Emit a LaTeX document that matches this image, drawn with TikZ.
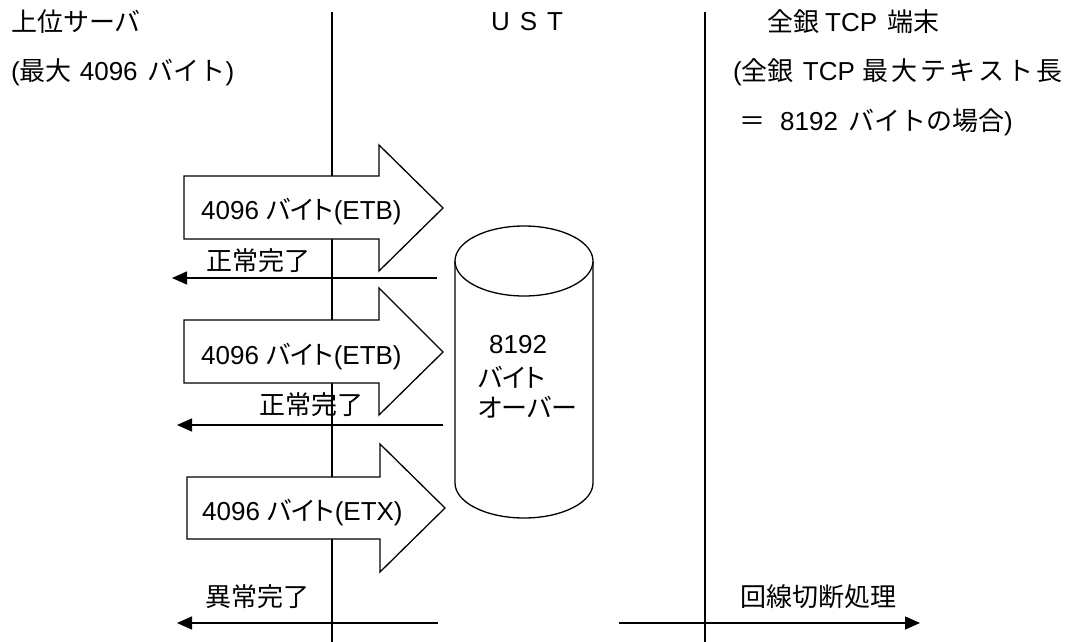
\documentclass[tikz,border=0pt]{standalone}
\usepackage{fontspec}
\setmainfont{Noto Sans CJK JP}
\newfontfamily\lat{Liberation Sans}
\newfontfamily\jp[RawFeature=+palt]{Noto Sans CJK JP}
\usetikzlibrary{arrows.meta}
\newcommand{\gapx}[1]{\hspace{#1pt}}
\begin{document}
\begin{tikzpicture}[x=1pt,y=-1pt,
  lbl/.style={anchor=west,inner sep=0pt,font=\fontsize{26}{30}\selectfont},
  bigarrow/.style={draw,line width=1.3pt,fill=white,line join=miter},
  msg/.style={line width=1.4pt,-{Triangle[length=15pt,width=13pt]}},
  lifeline/.style={line width=1.4pt}]
\useasboundingbox (0,0) rectangle (1065,642);
% lifelines
\coordinate (ua) at (332,12);
\coordinate (ub) at (332,642);
\coordinate (ta) at (705,12);
\coordinate (tb) at (705,642);
\draw[lifeline] (ua) -- (ub);
\draw[lifeline] (ta) -- (tb);
% headers
\node[lbl] (h1) at (11,22) {上位サーバ};
\node[lbl] (h1b) at (11,72) {{\lat (}最大\gapx{8}{\lat 4096}\gapx{10}バイト{\lat )}};
\node[lbl,anchor=center] (h2) at (527,22) {\lat U\hspace{10pt}S\hspace{10pt}T};
\node[lbl] (h3) at (767,22) {全銀\gapx{6}{\lat TCP}\gapx{10}端末};
\node[lbl] (h3b) at (733,72) {{\lat (}全銀\gapx{9}{\lat TCP}\gapx{8}最\gapx{3}大\gapx{3}テ\gapx{3}キ\gapx{3}ス\gapx{3}ト\gapx{3}長};
\node[lbl] (h3c) at (739,122) {＝\gapx{15}{\lat 8192}\gapx{10}バイトの場合{\lat )}};
% big arrows
\draw[bigarrow] (184,176) -- (379,176) -- (379,145) -- (443,208) -- (379,271) -- (379,239) -- (184,239) -- cycle;
\node[lbl] (a1) at (201,212) {{\lat 4096 }{\jp バイト}{\lat (ETB)}};
\draw[bigarrow] (184,320) -- (379,320) -- (379,288) -- (443,352) -- (379,415) -- (379,383) -- (184,383) -- cycle;
\node[lbl] (a2) at (201,357) {{\lat 4096 }{\jp バイト}{\lat (ETB)}};
\draw[bigarrow] (187,477) -- (380,477) -- (380,444) -- (445,508) -- (380,572) -- (380,539) -- (187,539) -- cycle;
\node[lbl] (a3) at (202,513) {{\lat 4096 }{\jp バイト}{\lat (ETX)}};
% cylinder
\draw[line width=1.3pt,fill=white] (455,261) -- (455,483) arc[start angle=180,end angle=360,x radius=69pt,y radius=35pt] -- (593,261);
\draw[line width=1.3pt,fill=white] (524,261) ellipse[x radius=69pt,y radius=35pt];
\node[lbl] (c1) at (489,345) {\lat 8192};
\node[lbl] (c2) at (478,377) {\jp バイト};
\node[lbl] (c3) at (478,407) {\jp オーバー};
% return messages
\coordinate (r1s) at (437,278);
\coordinate (r1e) at (172,278);
\draw[msg] (r1s) -- (r1e);
\node[lbl] (l1) at (206,261) {正常完了};
\coordinate (r2s) at (443,425);
\coordinate (r2e) at (177,425);
\draw[msg] (r2s) -- (r2e);
\node[lbl] (l2) at (259,405) {正常完了};
\coordinate (r3s) at (438,623);
\coordinate (r3e) at (177,623);
\draw[msg] (r3s) -- (r3e);
\node[lbl] (l3) at (205,597) {異常完了};
\coordinate (r4s) at (619,623);
\coordinate (r4e) at (920,623);
\draw[msg] (r4s) -- (r4e);
\node[lbl] (l4) at (740,597) {回線切断処理};
\end{tikzpicture}
\end{document}
